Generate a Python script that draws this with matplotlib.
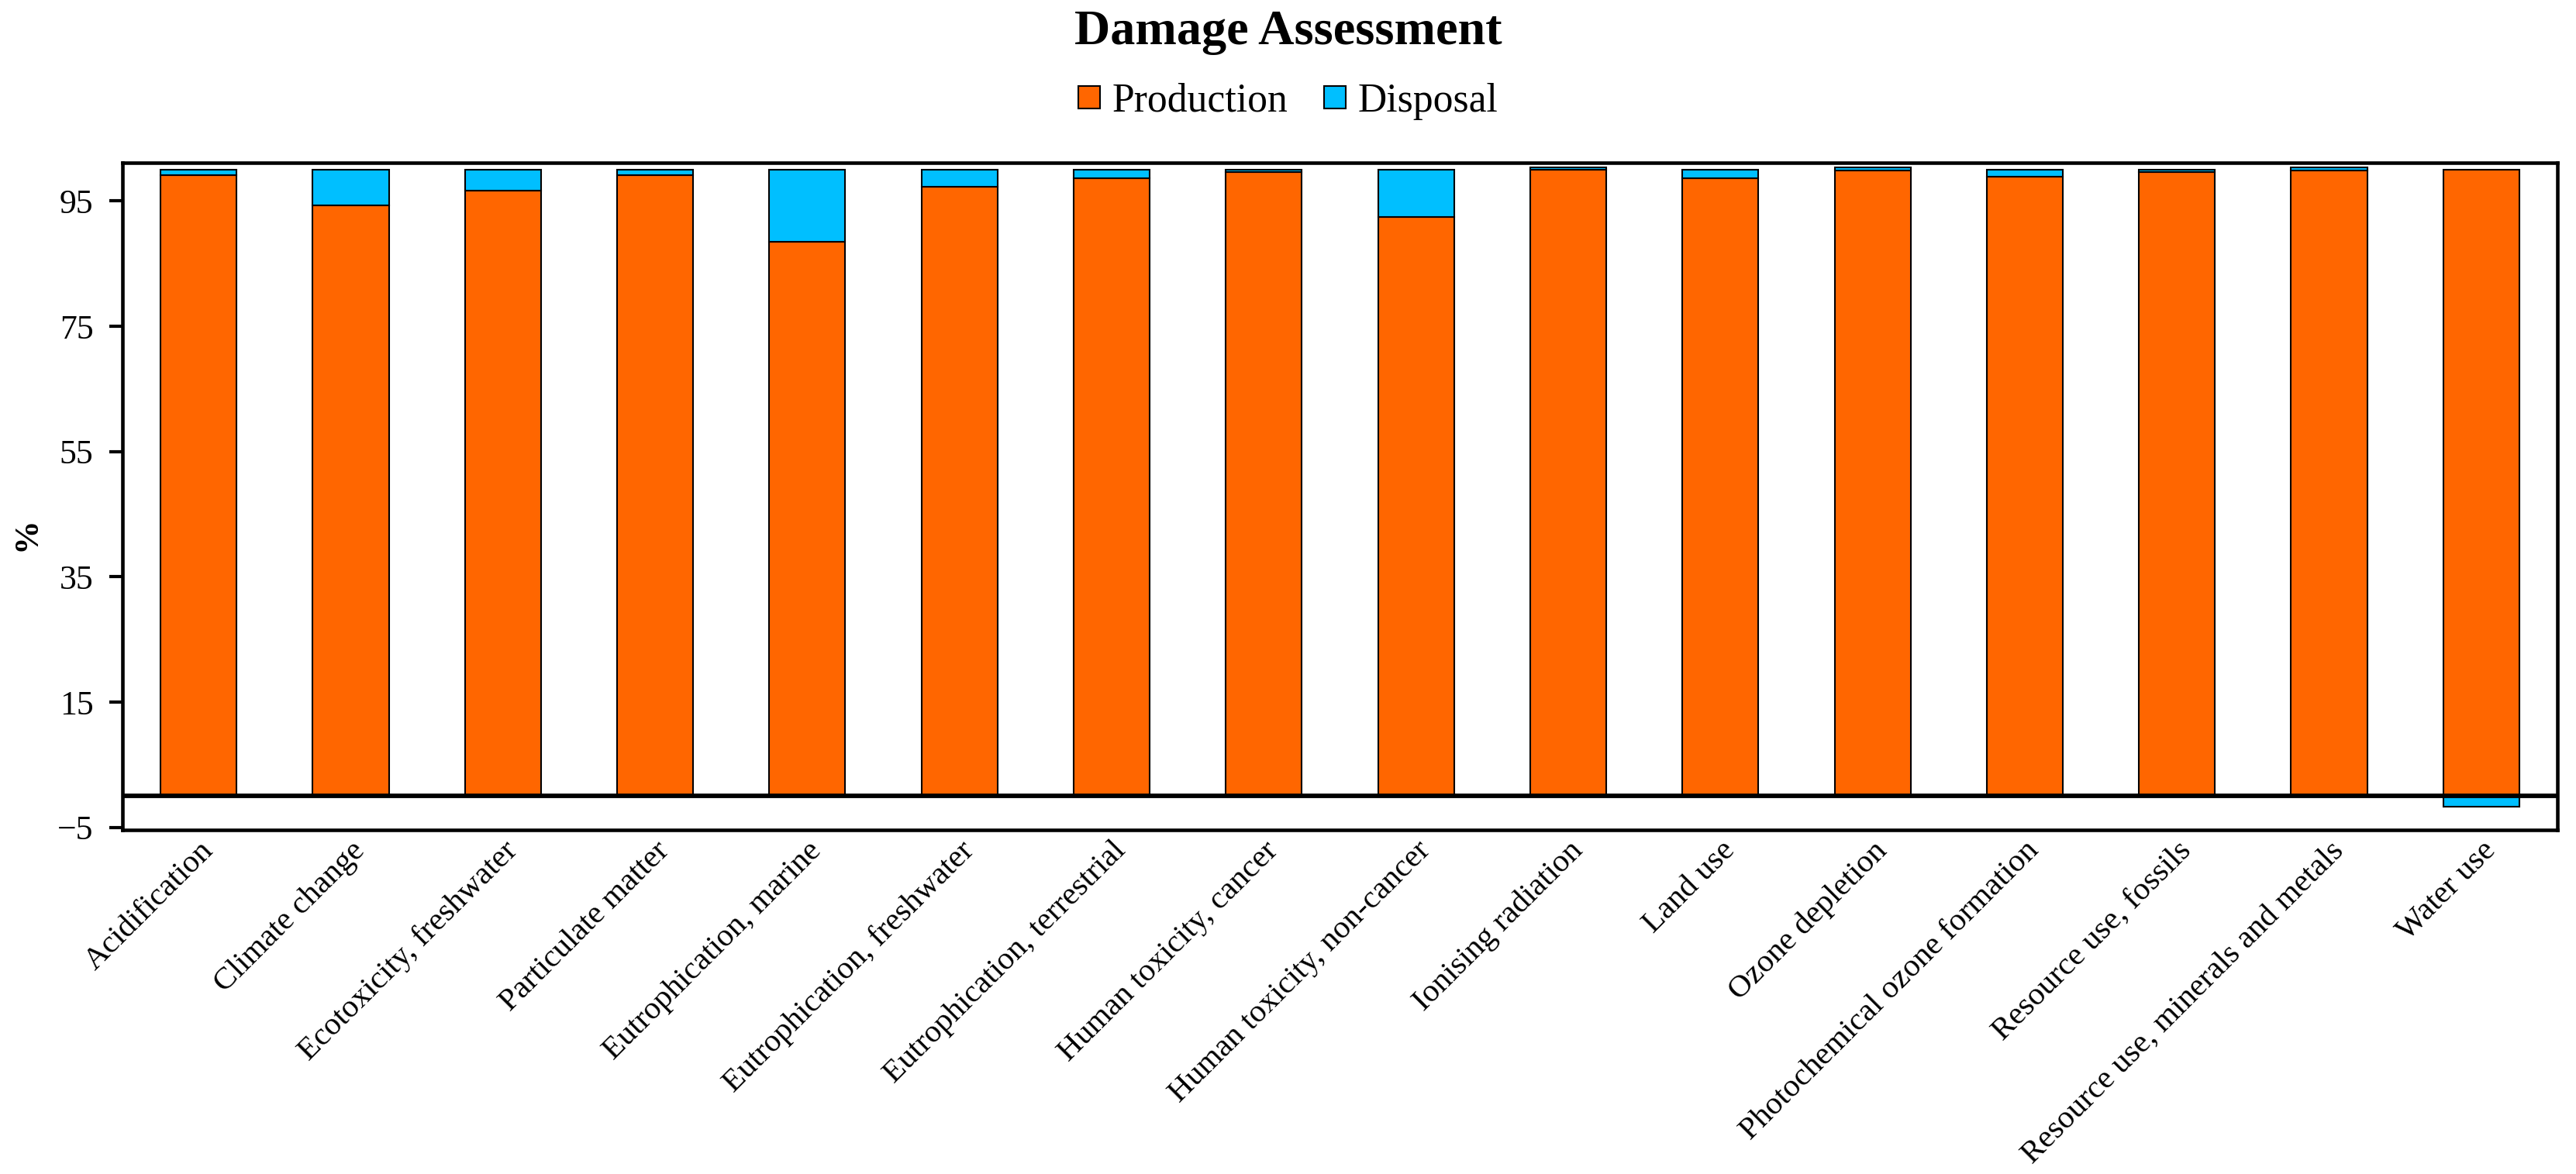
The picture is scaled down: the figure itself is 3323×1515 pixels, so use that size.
import numpy as np
import matplotlib
matplotlib.use('Agg')
import matplotlib.pyplot as plt

plt.rcParams['font.family'] = ['Liberation Serif', 'DejaVu Serif']

categories = ['Acidification', 'Climate change', 'Ecotoxicity, freshwater',
              'Particulate matter', 'Eutrophication, marine',
              'Eutrophication, freshwater', 'Eutrophication, terrestrial',
              'Human toxicity, cancer', 'Human toxicity, non-cancer',
              'Ionising radiation', 'Land use', 'Ozone depletion',
              'Photochemical ozone formation', 'Resource use, fossils',
              'Resource use, minerals and metals', 'Water use']
production = [99.1, 94.3, 96.7, 99.1, 88.5, 97.3, 98.6, 99.6,
              92.4, 100.0, 98.6, 99.9, 98.9, 99.6, 99.9, 100.0]
disposal = [0.9, 5.7, 3.3, 0.9, 11.5, 2.7, 1.4, 0.4,
            7.6, 0.4, 1.4, 0.5, 1.1, 0.4, 0.5, -1.7]
yticks = [-5, 15, 35, 55, 75, 95]

W, H = 3323, 1515
fig = plt.figure(figsize=(W / 300, H / 300), dpi=300)
ax = fig.add_axes([158 / W, 1 - 1071 / H, (3299 - 158) / W, (1071 - 210) / H])

x = np.arange(len(categories))
prod = np.array(production)
disp = np.array(disposal)
bottoms = np.where(disp >= 0, prod, 0)

ax.bar(x, prod, 0.5, color='#FF6600', edgecolor='black', linewidth=0.5,
       label='Production', zorder=2)
ax.bar(x, disp, 0.5, bottom=bottoms, color='#00BFFF', edgecolor='black',
       linewidth=0.5, label='Disposal', zorder=2)

ax.axhline(0, color='black', linewidth=1.4, zorder=3)

ax.set_xlim(-0.5, len(categories) - 0.5)
ax.set_ylim(-5.4, 101.1)
ax.set_yticks(yticks)
ax.set_xticks(x)
ax.set_xticklabels(categories, rotation=45, ha='right', va='top',
                   rotation_mode='anchor', fontsize=9.9)
ax.tick_params(axis='x', length=0, pad=2)
ax.tick_params(axis='y', direction='out', length=4, width=1.0,
               pad=5, labelsize=10.5)
for s in ax.spines.values():
    s.set_linewidth(1.1)

fig.text(0.5, 1 - 42 / H, 'Damage Assessment', ha='center', va='center',
         fontsize=15.4, fontweight='bold')
fig.text(35 / W, 1 - 689 / H, '%', rotation=90, ha='center', va='center',
         fontsize=10.5, fontweight='bold')

fig.legend(loc='center', bbox_to_anchor=(0.5, 1 - 131 / H), ncol=2,
           frameon=False, fontsize=12.4, handlelength=0.55,
           handleheight=0.5, handletextpad=0.3, columnspacing=0.9)

fig.savefig('out.png', dpi=300)
